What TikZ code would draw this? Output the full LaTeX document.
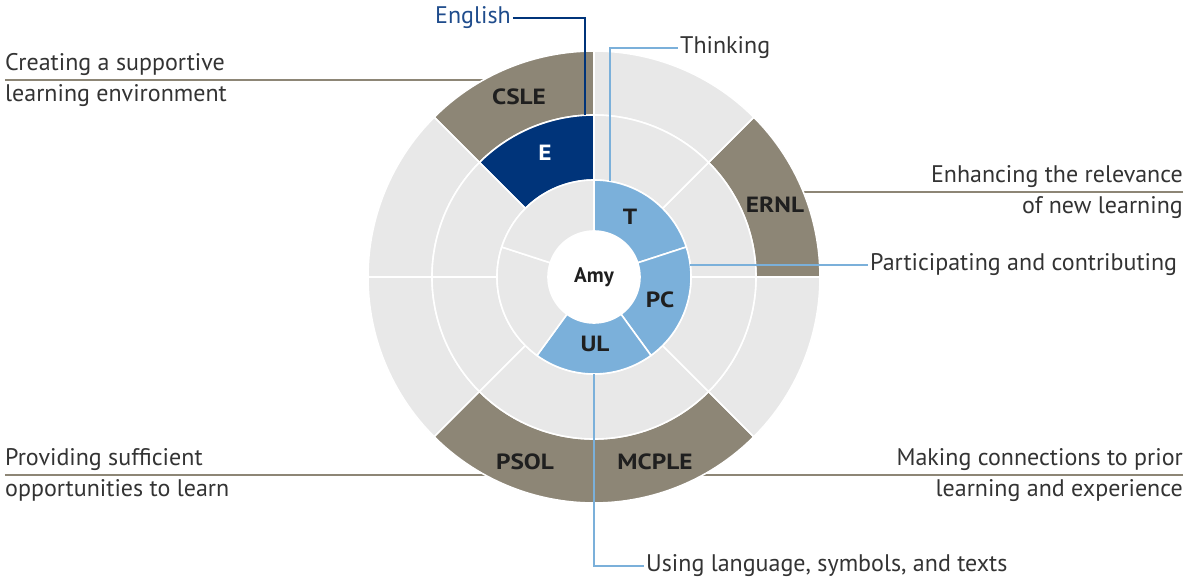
\documentclass[tikz,border=0pt]{standalone}
\usepackage{fontspec}
\setmainfont{PT Sans}
\newfontfamily\segfont{PT Sans Bold}[FakeStretch=1.15]
\definecolor{brownseg}{HTML}{8D8676}
\definecolor{greyseg}{HTML}{E8E8E8}
\definecolor{lblue}{HTML}{7BB0DA}
\definecolor{dblue}{HTML}{00347A}
\definecolor{engtext}{HTML}{1F4C8C}
\definecolor{txtgrey}{HTML}{333333}
\newcommand\ringseg[5]{\fill[#1, draw=white, line width=1.6pt] (#4:#2) arc[start angle=#4, end angle=#5, radius=#2] -- (#5:#3) arc[start angle=#5, end angle=#4, radius=#3] -- cycle;}
\begin{document}
\begin{tikzpicture}[x=1pt,y=1pt,
  seglbl/.style={font=\fontsize{22}{25}\segfont, text=black!88, inner sep=0},
  outlbl/.style={font=\fontsize{24}{31}\selectfont, text=txtgrey, inner sep=0},
  rulel/.style={draw=brownseg, line width=2pt},
  conn/.style={draw=lblue, line width=1.6pt},
  dconn/.style={draw=dblue, line width=1.6pt}]
\useasboundingbox (-594,-304) rectangle (590,277);
% rules to the outer ring
\node[outlbl, anchor=west, align=left] (cslelbl) at (-589,197) {Creating a supportive\\learning environment};
\node[outlbl, anchor=east, align=right] (ernllbl) at (589,85) {Enhancing the relevance\\of new learning};
\node[outlbl, anchor=west, align=left] (psollbl) at (-589,-198) {Providing sufficient\\opportunities to learn};
\node[outlbl, anchor=east, align=right] (mcplelbl) at (589,-198) {Making connections to prior\\learning and experience};
\coordinate (csleedge) at (-110.8,197);
\coordinate (ernledge) at (209.4,85);
\coordinate (psoledge) at (-109,-198);
\coordinate (mcpleedge) at (109,-198);
\draw[rulel] (cslelbl.west) -- (cslelbl.west -| csleedge);
\draw[rulel] (ernllbl.east) -- (ernllbl.east -| ernledge);
\draw[rulel] (psollbl.west) -- (psollbl.west -| psoledge);
\draw[rulel] (mcplelbl.east) -- (mcplelbl.east -| mcpleedge);
% outer ring
\ringseg{brownseg}{226}{162}{0}{45}
\ringseg{greyseg}{226}{162}{45}{90}
\ringseg{brownseg}{226}{162}{90}{135}
\ringseg{greyseg}{226}{162}{135}{180}
\ringseg{greyseg}{226}{162}{180}{225}
\ringseg{brownseg}{226}{162}{225}{270}
\ringseg{brownseg}{226}{162}{270}{315}
\ringseg{greyseg}{226}{162}{315}{360}
% middle ring
\ringseg{greyseg}{162}{97}{0}{45}
\ringseg{greyseg}{162}{97}{45}{90}
\ringseg{dblue}{162}{97}{90}{135}
\ringseg{greyseg}{162}{97}{135}{180}
\ringseg{greyseg}{162}{97}{180}{225}
\ringseg{greyseg}{162}{97}{225}{270}
\ringseg{greyseg}{162}{97}{270}{315}
\ringseg{greyseg}{162}{97}{315}{360}
% inner ring
\ringseg{lblue}{97}{46}{18}{90}
\ringseg{lblue}{97}{46}{-54}{18}
\ringseg{lblue}{97}{46}{-126}{-54}
\ringseg{greyseg}{97}{46}{162}{234}
\ringseg{greyseg}{97}{46}{90}{162}
\fill[white] (0,0) circle[radius=46];
% segment labels
\node[seglbl, font=\fontsize{21}{25}\selectfont\bfseries] (amy) at (0,0) {Amy};
\node[seglbl] (t) at (36,60) {T};
\node[seglbl] (pc) at (66,-23) {PC};
\node[seglbl] (ul) at (1,-67) {UL};
\node[seglbl, text=white] (e) at (-49,124) {E};
\node[seglbl] (csle) at (-75,180) {CSLE};
\node[seglbl] (ernl) at (181,72) {ERNL};
\node[seglbl] (psol) at (-69,-185) {PSOL};
\node[seglbl] (mcple) at (61,-185) {MCPLE};
% connectors
\node[outlbl, text=engtext, anchor=east, inner sep=2pt] (englbl) at (-81,259) {English};
\node[outlbl, anchor=west, inner sep=2pt] (thinklbl) at (84,229) {Thinking};
\node[outlbl, anchor=west, inner sep=2pt] (pclbl) at (274,12) {Participating and contributing};
\node[outlbl, anchor=west, inner sep=2pt] (ullbl) at (50,-289) {Using language, symbols, and texts};
\coordinate (eend) at (-9,161.75);
\coordinate (tend) at (16,95.67);
\coordinate (pcend) at (96.25,12);
\coordinate (ulend) at (0,-97);
\draw[dconn] (englbl.east) -| (eend);
\draw[conn] (thinklbl.west) -| (tend);
\draw[conn] (pclbl.west) -- (pcend);
\draw[conn] (ulend) |- (ullbl.west);
\end{tikzpicture}
\end{document}
